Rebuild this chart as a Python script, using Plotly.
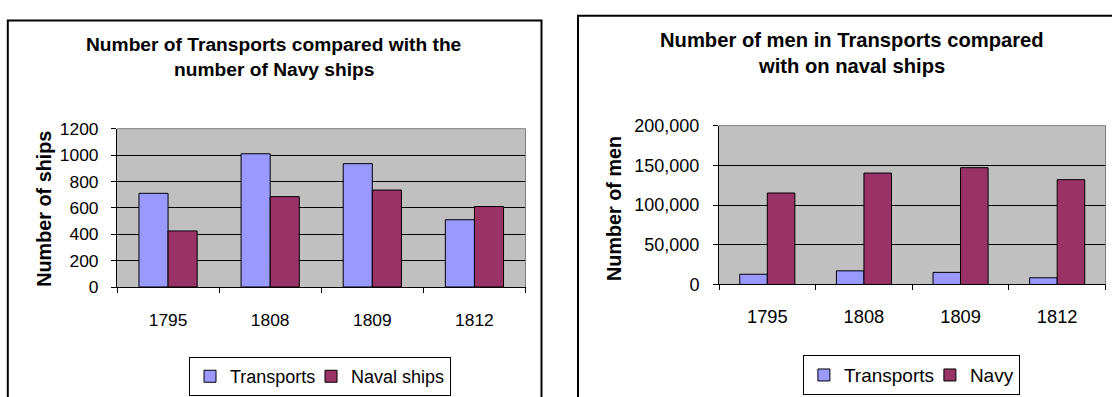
import plotly.graph_objects as go

W, H = 1112, 397

years = ["1795", "1808", "1809", "1812"]
ships_transports = [710, 1010, 935, 510]
ships_naval = [425, 685, 735, 610]
men_transports = [12800, 17100, 15200, 8400]
men_navy = [115100, 140200, 147000, 131900]
ships_ticks = [0, 200, 400, 600, 800, 1000, 1200]
men_ticks = [0, 50000, 100000, 150000, 200000]

C_T = "#9999FF"
C_N = "#993366"
FONT = "Arial, Liberation Sans, sans-serif"


def px(x):
    return x / W


def py(y):
    return (H - y) / H


fig = go.Figure()

fig.add_trace(go.Bar(x=years, y=ships_transports, name="Transports", marker=dict(color=C_T, line=dict(color="black", width=1)),
                     xaxis="x", yaxis="y", legend="legend", legendwidth=76))
fig.add_trace(go.Bar(x=years, y=ships_naval, name="Naval ships", marker=dict(color=C_N, line=dict(color="black", width=1)),
                     xaxis="x", yaxis="y", legend="legend"))
fig.add_trace(go.Bar(x=years, y=men_transports, name="Transports", marker=dict(color=C_T, line=dict(color="black", width=1)),
                     xaxis="x2", yaxis="y2", legend="legend2", legendwidth=81))
fig.add_trace(go.Bar(x=years, y=men_navy, name="Navy", marker=dict(color=C_N, line=dict(color="black", width=1)),
                     xaxis="x2", yaxis="y2", legend="legend2"))

axis_common = dict(showline=True, linecolor="black", linewidth=1, ticks="outside", ticklen=5,
                   tickcolor="black", zeroline=False)

fig.update_layout(
    width=W, height=H, margin=dict(l=0, r=0, t=0, b=0),
    paper_bgcolor="white", plot_bgcolor="#C0C0C0",
    barmode="group", bargap=0.43, bargroupgap=0,
    font=dict(family=FONT, color="black"),
    xaxis=dict(domain=[px(117), px(525.5)], anchor="y", type="category", tickson="boundaries",
               showgrid=False, tickfont=dict(size=17.4), ticklabelstandoff=17, **axis_common),
    yaxis=dict(domain=[py(291.7), py(125)], anchor="x", range=[0, 1200], tickvals=ships_ticks,
               showgrid=True, gridcolor="black", gridwidth=1, tickfont=dict(size=17.4),
               ticklabelstandoff=9, **axis_common),
    xaxis2=dict(domain=[px(719), px(1105.5)], anchor="y2", type="category", tickson="boundaries",
                showgrid=False, tickfont=dict(size=18.3), ticklabelstandoff=16, **axis_common),
    yaxis2=dict(domain=[py(289), py(121.7)], anchor="x2", range=[0, 200000], tickvals=men_ticks,
                tickformat=",", showgrid=True, gridcolor="black", gridwidth=1, tickfont=dict(size=18),
                ticklabelstandoff=10, **axis_common),
    legend=dict(orientation="h", x=px(320), y=py(386), xanchor="center", yanchor="middle",
                bgcolor="white", bordercolor="black", borderwidth=1, font=dict(size=18),
                itemwidth=30, tracegroupgap=0),
    legend2=dict(orientation="h", x=px(911.4), y=py(384.5), xanchor="center", yanchor="middle",
                 bgcolor="white", bordercolor="black", borderwidth=1, font=dict(size=19),
                 itemwidth=30, tracegroupgap=0),
    showlegend=True,
)

shapes = [
    # outer chart borders
    dict(type="rect", xref="paper", yref="paper", x0=px(7.8), x1=px(541.5), y0=-0.2, y1=py(11),
         line=dict(color="black", width=2), layer="below"),
    dict(type="rect", xref="paper", yref="paper", x0=px(578), x1=1.2, y0=-0.2, y1=py(6),
         line=dict(color="black", width=2), layer="below"),
]
for xr, yr in (("x domain", "y domain"), ("x2 domain", "y2 domain")):
    shapes.append(dict(type="line", xref=xr, yref=yr, x0=0, x1=1, y0=1, y1=1,
                       line=dict(color="#808080", width=1), layer="above"))
    shapes.append(dict(type="line", xref=xr, yref=yr, x0=1, x1=1, y0=0, y1=1,
                       line=dict(color="#808080", width=1), layer="above"))
fig.update_layout(shapes=shapes)

ann = []


def title_line(text, x, y, size):
    ann.append(dict(text=text, x=px(x), y=py(y), xref="paper", yref="paper", showarrow=False,
                    xanchor="center", yanchor="middle", font=dict(size=size, family=FONT, color="black")))


title_line("<b>Number of Transports compared with the</b>", 273.5, 36, 19.2)
title_line("<b>number of Navy ships</b>", 273.5, 63, 19.2)
title_line("<b>Number of men in Transports compared</b>", 851.7, 32, 20.2)
title_line("<b>with on naval ships</b>", 851.7, 59, 20.2)

ann.append(dict(text="<b>Number of ships</b>", x=px(44.3), y=py(209), xref="paper", yref="paper",
                showarrow=False, textangle=-90, xanchor="center", yanchor="middle",
                font=dict(size=19.8, family=FONT, color="black")))
ann.append(dict(text="<b>Number of men</b>", x=px(614.5), y=py(209), xref="paper", yref="paper",
                showarrow=False, textangle=-90, xanchor="center", yanchor="middle",
                font=dict(size=19.8, family=FONT, color="black")))
fig.update_layout(annotations=ann)

fig.write_html("out.html")
